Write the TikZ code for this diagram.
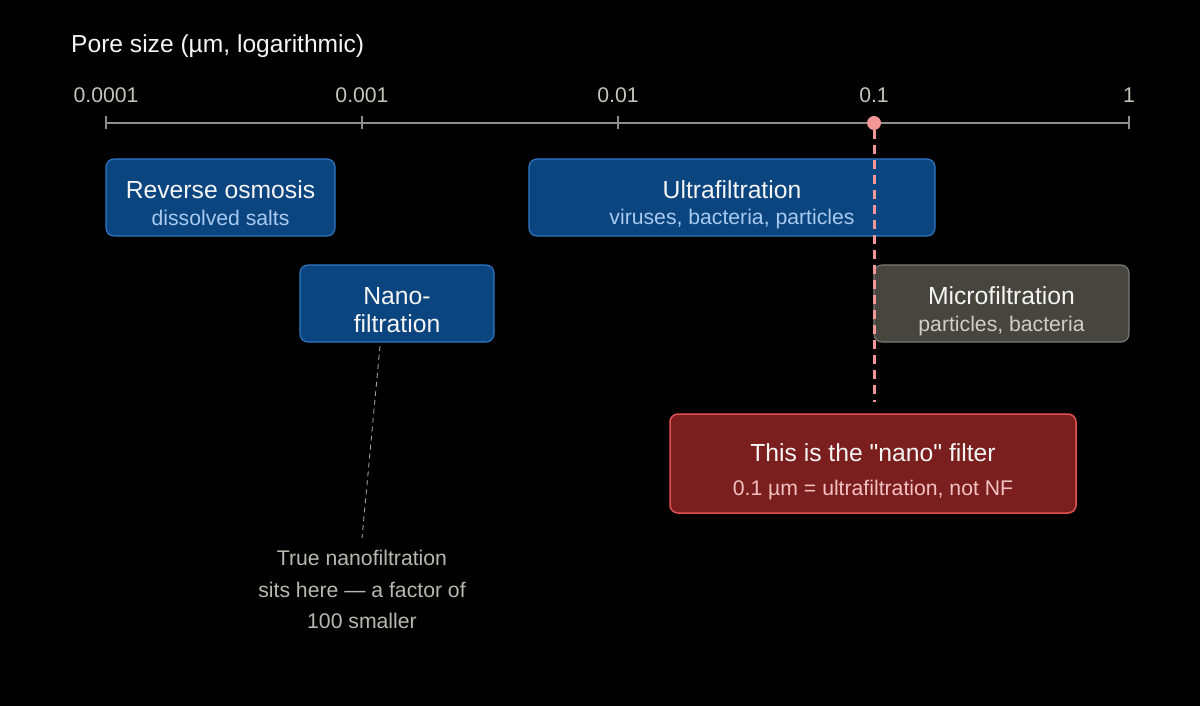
\documentclass[tikz,border=0pt]{standalone}
\usepackage{fontspec}
\setmainfont{Liberation Sans}
\newfontfamily\plainf{Liberation Sans}
\definecolor{bluefill}{HTML}{0B4580}
\definecolor{blueedge}{HTML}{2F78C8}
\definecolor{bluesub}{HTML}{A9C9EF}
\definecolor{grayfill}{HTML}{46463F}
\definecolor{grayedge}{HTML}{7B7B76}
\definecolor{graysub}{HTML}{CFCFC7}
\definecolor{redfill}{HTML}{7A1E1E}
\definecolor{rededge}{HTML}{E35252}
\definecolor{redsub}{HTML}{F3C1C1}
\definecolor{ticklab}{HTML}{C4C4BC}
\definecolor{axisc}{HTML}{8E8E8E}
\definecolor{annot}{HTML}{B8B8B0}
\definecolor{salmon}{HTML}{F29696}
\definecolor{txtw}{HTML}{F5F5F5}
\begin{document}
\begin{tikzpicture}[x=1pt,y=-1pt,
  boxbase/.style={rectangle, rounded corners=8pt, line width=1.1pt, inner sep=0pt},
  bluebox/.style={boxbase, fill=bluefill, draw=blueedge},
  graybox/.style={boxbase, fill=grayfill, draw=grayedge},
  redbox/.style={boxbase, fill=redfill, draw=rededge, line width=1.5pt},
  ttl/.style={anchor=base, inner sep=0pt, text=txtw, font=\fontsize{24.7}{28}\selectfont},
  subb/.style={anchor=base, inner sep=0pt, font=\fontsize{21.2}{24}\selectfont},
  ticklabel/.style={anchor=base, inner sep=0pt, text=ticklab, font=\fontsize{21.2}{24}\selectfont},
  tickmark/.style={draw=axisc, line width=1.2pt},
]
\fill[black] (0,0) rectangle (1200,706);
\useasboundingbox (0,0) rectangle (1200,706);

% title
\node[anchor=base west, inner sep=0pt, text=txtw, font=\fontsize{24.6}{28}\selectfont] (title) at (71,53) {Pore size (µm, logarithmic)};

% axis
\coordinate (a0) at (106,123);
\coordinate (a1) at (362,123);
\coordinate (a2) at (618,123);
\coordinate (a3) at (874,123);
\coordinate (a4) at (1129,123);
\draw[tickmark] (a0) -- (a4);
\foreach \p in {a0,a1,a2,a3,a4} {
  \draw[tickmark] ([yshift=-6.5pt]\p) -- ([yshift=6.5pt]\p);
}
\node[ticklabel] (l0) at (106,103) {0.0001};
\node[ticklabel] (l1) at (362,103) {0.001};
\node[ticklabel] (l2) at (618,103) {0.01};
\node[ticklabel] (l3) at (874,103) {0.1};
\node[ticklabel] (l4) at (1129,103) {1};

% boxes
\node[bluebox, minimum width=229pt, minimum height=77pt] (ro) at (220.5,197.5) {};
\node[ttl] (rot) at (220.5,198) {Reverse osmosis};
\node[subb, text=bluesub] (ros) at (220.5,225) {dissolved salts};

\node[bluebox, minimum width=406pt, minimum height=77pt] (uf) at (732,197.5) {};
\node[ttl] (uft) at (732,198) {Ultrafiltration};
\node[subb, text=bluesub] (ufs) at (732,224) {viruses, bacteria, particles};

\node[bluebox, minimum width=194pt, minimum height=77pt] (nf) at (397,303.5) {};
\node[ttl] (nft1) at (397,304) {Nano-};
\node[ttl] (nft2) at (397,332) {filtration};

\node[graybox, minimum width=255pt, minimum height=77pt] (mf) at (1001.5,303.5) {};
\node[ttl] (mft) at (1001.5,304) {Microfiltration};
\node[subb, text=graysub] (mfs) at (1001.5,331) {particles, bacteria};

\node[redbox, minimum width=406pt, minimum height=99pt] (hb) at (873,463.5) {};
\node[ttl, font=\plainf\fontsize{24.7}{28}\selectfont] (hbt) at (873,461) {This is the "nano" filter};
\node[subb, text=redsub] (hbs) at (873,495) {0.1 µm = ultrafiltration, not NF};

% annotation
\node[subb, text=annot] (an1) at (362,565) {True nanofiltration};
\node[subb, text=annot] (an2) at (362,597) {sits here — a factor of};
\node[subb, text=annot] (an3) at (362,628) {100 smaller};
\coordinate (nfp) at (380,346);
\coordinate (anp) at (362,538);
\draw[draw=axisc!85, line width=0.9pt, dash pattern=on 5pt off 4pt] (nfp) -- (anp);

% red marker
\node[circle, fill=salmon, minimum size=14pt, inner sep=0pt] (dot) at (a3) {};
\coordinate (dend) at (874,402);
\draw[salmon, line width=3pt, dash pattern=on 9pt off 6pt] (dot.south) -- (dend);
\end{tikzpicture}
\end{document}
